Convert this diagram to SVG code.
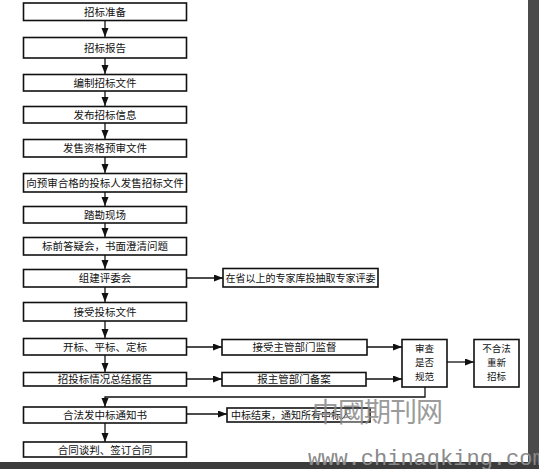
<svg xmlns="http://www.w3.org/2000/svg" width="539" height="469" viewBox="0 0 539 469">
<style>
.b{fill:#fff;stroke:#111;stroke-width:1.6}
.t{font-family:"Noto Sans CJK SC",sans-serif;font-size:10.5px;fill:#111;text-anchor:middle}
.s{font-size:10px}
.m{font-size:9.5px}
.c{fill:none;stroke:#111;stroke-width:1.3}
.wm{font-family:"Noto Sans CJK TC",sans-serif;fill:#8a8a8a;opacity:0.85}
</style>
<defs>
<marker id="ah" markerUnits="userSpaceOnUse" markerWidth="10" markerHeight="8" refX="9" refY="3.5" orient="auto">
<path d="M0,0 L9,3.5 L0,7 z" fill="#111"/>
</marker>
</defs>
<rect width="539" height="469" fill="#fff"/>
<rect x="528" y="0" width="11" height="469" fill="#4b4b4b"/>
<rect x="0" y="462" width="539" height="7" fill="#3c3c3c"/>

<g id="connectors">
<line class="c" x1="105" y1="20.5" x2="105" y2="37" marker-end="url(#ah)"/>
<line class="c" x1="105" y1="58" x2="105" y2="74" marker-end="url(#ah)"/>
<line class="c" x1="105" y1="91" x2="105" y2="106" marker-end="url(#ah)"/>
<line class="c" x1="105" y1="123" x2="105" y2="139" marker-end="url(#ah)"/>
<line class="c" x1="105" y1="157" x2="105" y2="173" marker-end="url(#ah)"/>
<line class="c" x1="105" y1="192" x2="105" y2="206" marker-end="url(#ah)"/>
<line class="c" x1="105" y1="223" x2="105" y2="237" marker-end="url(#ah)"/>
<line class="c" x1="105" y1="255" x2="105" y2="269" marker-end="url(#ah)"/>
<line class="c" x1="105" y1="287" x2="105" y2="302" marker-end="url(#ah)"/>
<line class="c" x1="105" y1="321" x2="105" y2="338" marker-end="url(#ah)"/>
<line class="c" x1="105" y1="355" x2="105" y2="372" marker-end="url(#ah)"/>
<line class="c" x1="105" y1="423" x2="105" y2="442" marker-end="url(#ah)"/>
<line class="c" x1="187" y1="278" x2="223" y2="278" marker-end="url(#ah)"/>
<line class="c" x1="187" y1="347" x2="222" y2="347" marker-end="url(#ah)"/>
<line class="c" x1="187" y1="379" x2="222" y2="379" marker-end="url(#ah)"/>
<line class="c" x1="367" y1="347" x2="402" y2="347" marker-end="url(#ah)"/>
<line class="c" x1="366" y1="379" x2="402" y2="379" marker-end="url(#ah)"/>
<line class="c" x1="447" y1="362" x2="474" y2="362" marker-end="url(#ah)"/>
<polyline class="c" points="425,387 425,397 105,397 105,407" marker-end="url(#ah)"/>
<line class="c" x1="187" y1="414" x2="227" y2="414" marker-end="url(#ah)"/>
</g>

<g id="n1"><rect class="b" x="23.5" y="3" width="163" height="17.5"/><text class="t" x="105" y="15.5">招标准备</text></g>
<g id="n2"><rect class="b" x="23.5" y="37.5" width="163" height="20.5"/><text class="t" x="105" y="51.5">招标报告</text></g>
<g id="n3"><rect class="b" x="23.5" y="74.5" width="163" height="16.5"/><text class="t" x="105" y="86.5">编制招标文件</text></g>
<g id="n4"><rect class="b" x="23.5" y="106.5" width="163" height="16.5"/><text class="t" x="105" y="118.5">发布招标信息</text></g>
<g id="n5"><rect class="b" x="23.5" y="139.5" width="163" height="17.5"/><text class="t" x="105" y="152">发售资格预审文件</text></g>
<g id="n6"><rect class="b" x="23.5" y="173.5" width="163" height="18.5"/><text class="t" x="105" y="186.5">向预审合格的投标人发售招标文件</text></g>
<g id="n7"><rect class="b" x="23.5" y="206.5" width="163" height="16.5"/><text class="t" x="105" y="218.5">踏勘现场</text></g>
<g id="n8"><rect class="b" x="23.5" y="237.5" width="163" height="17.5"/><text class="t" x="105" y="250">标前答疑会，书面澄清问题</text></g>
<g id="n9"><rect class="b" x="23.5" y="269.5" width="163" height="17.5"/><text class="t" x="105" y="282">组建评委会</text></g>
<g id="n10"><rect class="b" x="23.5" y="302.5" width="163" height="18.5"/><text class="t" x="105" y="315.5">接受投标文件</text></g>
<g id="n11"><rect class="b" x="23.5" y="338.5" width="163" height="16.5"/><text class="t" x="105" y="350.5">开标、平标、定标</text></g>
<g id="n12"><rect class="b" x="23.5" y="372.5" width="163" height="13.5"/><text class="t" x="105" y="383">招投标情况总结报告</text></g>
<g id="n13"><rect class="b" x="23.5" y="407" width="163" height="16"/><text class="t" x="105" y="418.5">合法发中标通知书</text></g>
<g id="n14"><rect class="b" x="23.5" y="442" width="163" height="15"/><text class="t" x="105" y="453.5">合同谈判、签订合同</text></g>

<g id="s1"><rect class="b" x="223" y="268.5" width="155" height="18.5"/><text class="t s" x="300.5" y="281.5">在省以上的专家库投抽取专家评委</text></g>
<g id="s2"><rect class="b" x="222" y="339.5" width="145" height="15.5"/><text class="t" x="294.5" y="351">接受主管部门监督</text></g>
<g id="s3"><rect class="b" x="222" y="372.5" width="144" height="13.5"/><text class="t" x="294" y="383">报主管部门备案</text></g>
<g id="s4"><rect class="b" x="227" y="408" width="143" height="14"/><text class="t s" x="291" y="419">中标结束，通知所有中标人</text></g>
<g id="review"><rect class="b" x="402" y="339.5" width="45" height="47.5"/><text class="t m" x="424.5" y="351.5">审查</text><text class="t m" x="424.5" y="365.5">是否</text><text class="t m" x="424.5" y="379.5">规范</text></g>
<g id="retender"><rect class="b" x="474" y="339.5" width="45" height="47.5"/><text class="t m" x="496.5" y="351.5">不合法</text><text class="t m" x="496.5" y="365.5">重新</text><text class="t m" x="496.5" y="379.5">招标</text></g>

<text class="wm" x="312" y="422" font-size="27" letter-spacing="-1">中國期刊网</text>
<text x="308" y="465" font-family="Liberation Mono,monospace" font-size="22" fill="#8a8a8a">www.chinaqking.com</text>
</svg>
